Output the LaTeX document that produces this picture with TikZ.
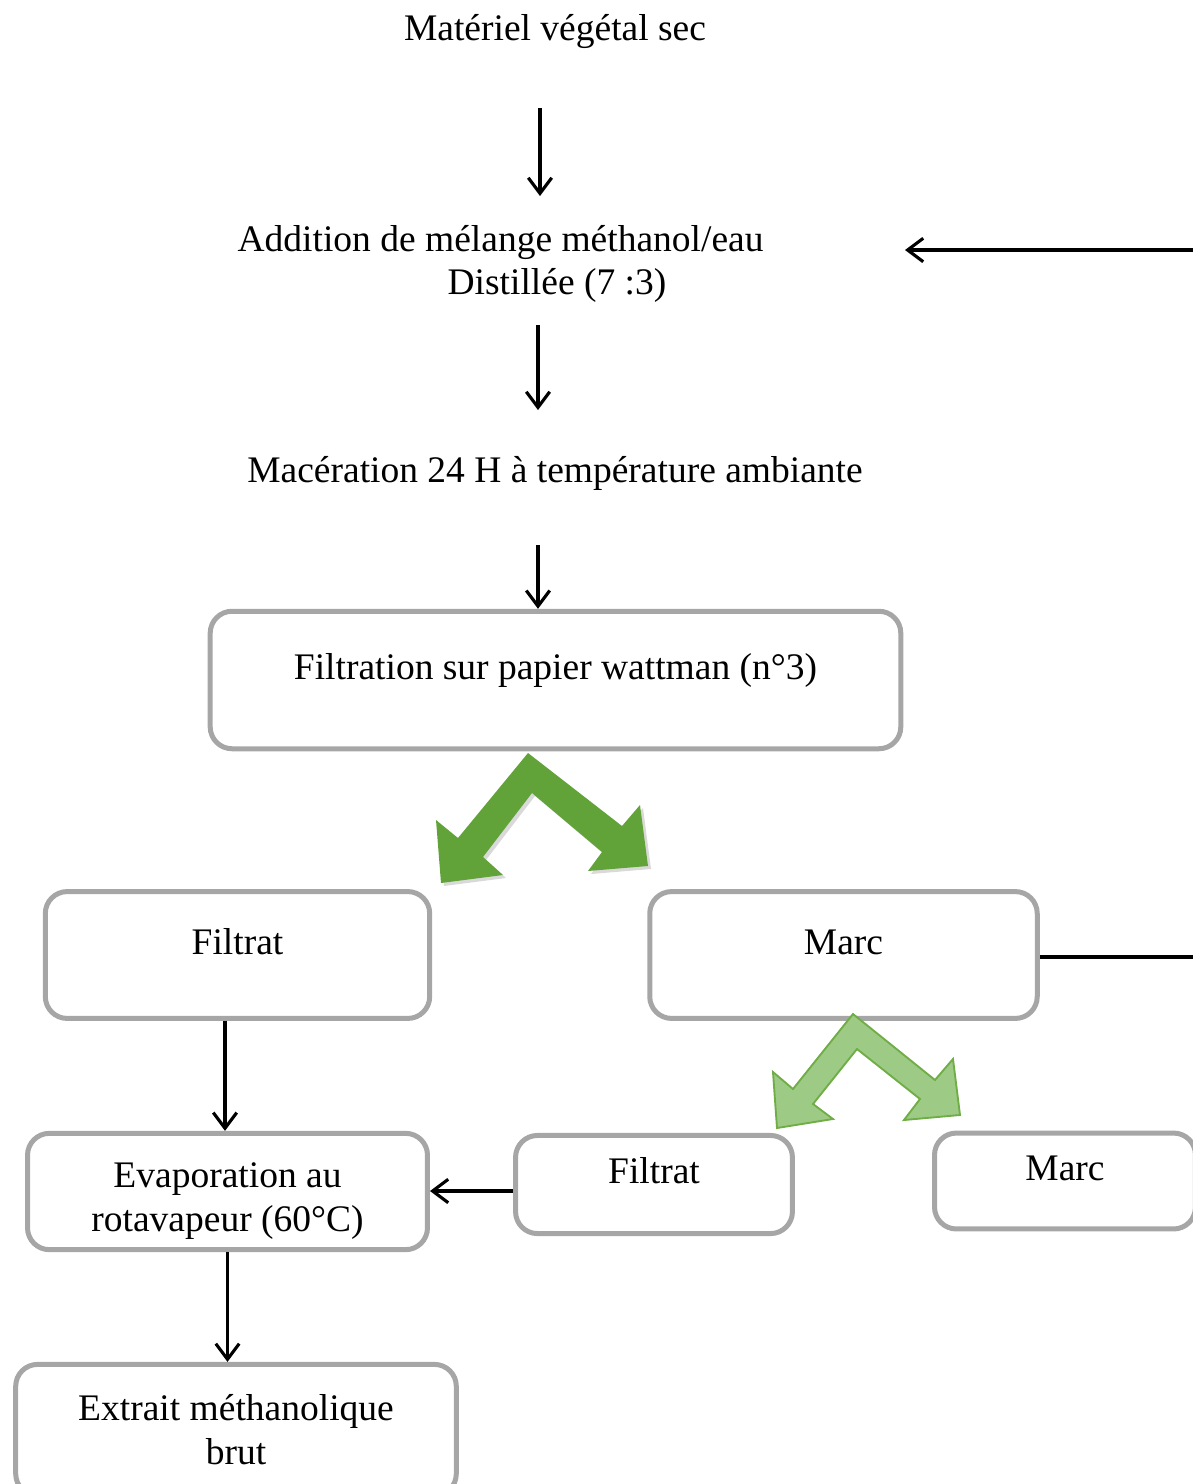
\documentclass[tikz,border=0pt]{standalone}
\usepackage{fontspec}
\setmainfont{Liberation Serif}
\usetikzlibrary{arrows.meta,calc}
\definecolor{boxgray}{RGB}{166,166,166}
\definecolor{darkleaf}{RGB}{98,163,57}
\definecolor{lightleaf}{RGB}{157,203,133}
\definecolor{leafline}{RGB}{112,173,71}

\begin{document}
\begin{tikzpicture}[x=0.32pt,y=-0.32pt,
	every node/.style={font=\fontsize{12pt}{14pt}\selectfont},
	boxnode/.style={draw=boxgray,line width=1.6pt,rounded corners=7pt,align=center},
	upbox/.style={boxnode,text height=9pt,text depth=9.6pt},
	flow/.style={line width=1pt,-{Straight Barb[length=5pt,width=7.5pt]}}]
			%%%%% START %%%%%
			
			\useasboundingbox (0,0) rectangle (1193,1484);
			\clip (0,0) rectangle (1193,1484);
			
			\node (mat) at (555, 31) {Matériel végétal sec};
			\node[anchor=west, inner sep=0, align=left] (add) at (237, 264)
				{Addition de mélange méthanol/eau\\\hspace*{67.2pt}Distillée (7 :3)};
			\node (mac) at (555, 473) {Macération 24 H à température ambiante};
			
			\node[upbox, minimum width=221pt, minimum height=44pt] (filt) at (555.5, 680) {Filtration sur papier wattman (n°3)};
			\node[upbox, minimum width=123pt, minimum height=40.6pt] (filtrat) at (237.5, 955) {Filtrat};
			\node[upbox, minimum width=124pt, minimum height=40.6pt] (marc) at (843.5, 955) {Marc};
			\node[boxnode, minimum width=128pt, minimum height=36pt] (evap) at (227.5, 1191.5) {\rule{0pt}{14pt}Evaporation au\\rotavapeur (60°C)};
			\node[upbox, minimum width=88.6pt, minimum height=31.4pt] (filtrat2) at (654, 1184.5) {Filtrat};
			\node[upbox, minimum width=83.5pt, minimum height=30.7pt] (marc2) at (1065, 1181) {Marc};
			\node[boxnode, minimum width=141pt, minimum height=42pt] (extrait) at (236, 1430) {Extrait méthanolique\\brut};
			
			\coordinate (a1) at (540, 108);
			\coordinate (b1) at (540, 196);
			\coordinate (a2) at (538, 325);
			\coordinate (b2) at (538, 410);
			\coordinate (a3) at (538, 545);
			\coordinate (back) at (905, 250);
			
			\draw[flow] (a1) -- (b1);
			\draw[flow] (a2) -- (b2);
			\draw[flow] (a3) -- (filt.north -| a3);
			\draw[flow] (filtrat.south -| 225,0) -- (evap.north -| 225,0);
			\draw[flow] (filtrat2.west |- 0,1191) -- (evap.east |- 0,1191);
			\draw[flow] (evap.south) -- (extrait.north -| evap.south);
			\draw[flow] (marc.east |- 0,957) -- ++(200, 0) |- (back);
			
			% big split arrow
			\fill[black, opacity=0.15] ($(528,753)+(3,3)$) -- ++(94,73) -- ++(18,-21) -- ++(8,61) -- ++(-60,5)
				-- ++(14,-19) -- ++(-70,-59) -- ++(-49,64) -- ++(20,18) -- ++(-62,8) -- ++(-5,-63) -- ++(22,18) -- cycle;
			\fill[darkleaf] (528,753) -- (622,826) -- (640,805) -- (648,866) -- (588,871) -- (602,852)
				-- (532,793) -- (483,857) -- (503,875) -- (441,883) -- (436,820) -- (458,838) -- cycle;
			
			% small split arrow
			\draw[fill=lightleaf, draw=leafline, line width=0.6pt] (853,1014) -- (935,1080) -- (953,1059) -- (960,1115)
				-- (904,1120) -- (920,1099) -- (857,1049) -- (813,1104) -- (833,1119) -- (777,1128)
				-- (773,1072) -- (793,1089) -- cycle;
			
			%%%%% END %%%%%
		\end{tikzpicture}
\end{document}
